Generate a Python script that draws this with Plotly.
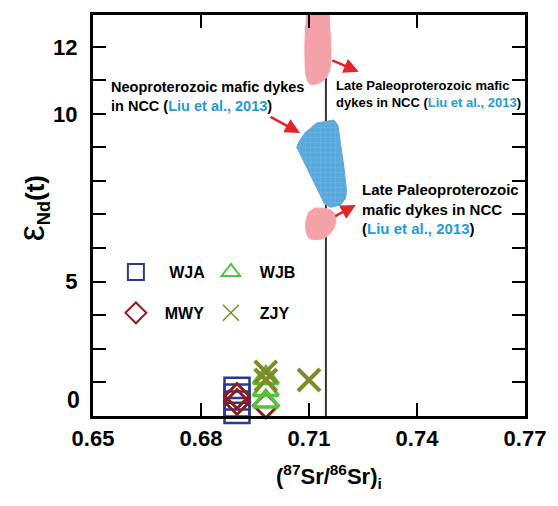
import plotly.graph_objects as go

# ---------------- data ----------------
# sample groups: (87Sr/86Sr)i and eNd(t)
wja_x = [0.690, 0.690, 0.690, 0.690]
wja_y = [1.75, 1.55, 1.34, 1.15]
mwy_x = [0.690, 0.690, 0.698]
mwy_y = [1.58, 1.40, 1.30]
wjb_x = [0.698, 0.698, 0.698]
wjb_y = [2.12, 1.76, 1.42]
zjy_x = [0.698, 0.698, 0.710]
zjy_y = [2.30, 2.06, 2.06]

# reference field outlines
late_paleo_top_x = [0.7100, 0.7150, 0.7158, 0.7161, 0.7158, 0.7147, 0.7122, 0.7103, 0.7092, 0.7089, 0.7089, 0.7092, 0.7095]
late_paleo_top_y = [13.10, 13.10, 12.51, 11.91, 11.37, 11.07, 10.90, 10.90, 11.13, 11.61, 12.21, 12.75, 13.10]
neo_x = [0.71185, 0.71691, 0.71802, 0.71877, 0.71968, 0.72042, 0.72015, 0.71877, 0.71600, 0.71434, 0.70660, 0.70723, 0.70909]
neo_y = [9.722, 9.821, 9.671, 9.125, 8.427, 7.731, 7.483, 7.283, 7.215, 7.313, 9.006, 9.173, 9.471]
late_paleo_bot_x = [0.71138, 0.71600, 0.71738, 0.71691, 0.71415, 0.71000, 0.70909, 0.71000]
late_paleo_bot_y = [7.194, 7.134, 6.934, 6.597, 6.298, 6.298, 6.746, 7.083]

ref_line_x = [0.7147, 0.7147]
ref_line_y = [0.5, 13.5]

x_ticks = [0.65, 0.68, 0.71, 0.74, 0.77]
y_ticks = list(range(2, 13))
y_tick_text = ["", "", "", "5", "", "", "", "", "10", "", "12"]

FONT = "Arial, Liberation Sans, sans-serif"
BLUE_TXT = "#1f9bd7"
PINK = "#f4a2a7"
NAVY = "#2b3a8c"
GREEN = "#56c13c"
DRED = "#8e1b1f"
OLIVE = "#7f8a28"
RED = "#e3232a"
NB = "\u00a0"

fig = go.Figure()

fig.add_trace(go.Scatter(x=ref_line_x, y=ref_line_y, mode="lines",
                         line=dict(color="#333333", width=2), showlegend=False, hoverinfo="skip"))
fig.add_trace(go.Scatter(x=late_paleo_top_x, y=late_paleo_top_y, mode="lines", fill="toself",
                         fillcolor=PINK, line=dict(color=PINK, width=1, shape="spline"), showlegend=False))
fig.add_trace(go.Scatter(x=neo_x, y=neo_y, mode="lines", fill="toself",
                         fillcolor="#5aa9dd", line=dict(color="#5aa9dd", width=1),
                         fillpattern=dict(shape="+", bgcolor="#5aa9dd", fgcolor="#86c2ea", size=5, solidity=0.15),
                         showlegend=False))
fig.add_trace(go.Scatter(x=late_paleo_bot_x, y=late_paleo_bot_y, mode="lines", fill="toself",
                         fillcolor=PINK, line=dict(color=PINK, width=1, shape="spline"), showlegend=False))

# data points
fig.add_trace(go.Scatter(x=wja_x, y=wja_y, mode="markers", cliponaxis=False, showlegend=False,
                         marker=dict(symbol="square-open", size=25, color=NAVY, line=dict(width=2.5, color=NAVY))))
fig.add_trace(go.Scatter(x=mwy_x, y=mwy_y, mode="markers", cliponaxis=False, showlegend=False,
                         marker=dict(symbol="diamond-open", size=19, color=DRED, line=dict(width=3, color=DRED))))
fig.add_trace(go.Scatter(x=wjb_x, y=wjb_y, mode="markers", cliponaxis=False, showlegend=False,
                         marker=dict(symbol="triangle-up-open", size=22, color=GREEN, line=dict(width=3.5, color=GREEN))))
fig.add_trace(go.Scatter(x=zjy_x, y=zjy_y, mode="markers", cliponaxis=False, showlegend=False,
                         marker=dict(symbol="x-thin-open", size=22, color=OLIVE, line=dict(width=4, color=OLIVE))))

# legend entries
fig.add_trace(go.Scatter(x=[None], y=[None], mode="markers", name=NB * 3 + "WJA", legend="legend",
                         marker=dict(symbol="square-open", size=16, color=NAVY, line=dict(width=2, color=NAVY))))
fig.add_trace(go.Scatter(x=[None], y=[None], mode="markers", name=NB * 2 + "WJB", legend="legend",
                         marker=dict(symbol="triangle-up-open", size=16, color=GREEN, line=dict(width=2, color=GREEN))))
fig.add_trace(go.Scatter(x=[None], y=[None], mode="markers", name=NB * 2 + "MWY", legend="legend2",
                         marker=dict(symbol="diamond-open", size=16, color=DRED, line=dict(width=2, color=DRED))))
fig.add_trace(go.Scatter(x=[None], y=[None], mode="markers", name=NB * 2 + "ZJY", legend="legend2",
                         marker=dict(symbol="x-thin-open", size=16, color=OLIVE, line=dict(width=1.5, color=OLIVE))))

leg_common = dict(orientation="h", xanchor="left", yanchor="middle", bgcolor="rgba(0,0,0,0)",
                  font=dict(family=FONT, size=16, color="black", weight="bold"),
                  entrywidth=50, itemsizing="trace")

annotations = []
def txt(x, y, text, size):
    annotations.append(dict(x=x, y=y, xref="x", yref="y", text=text, showarrow=False,
                            xanchor="left", yanchor="middle", align="left",
                            font=dict(family=FONT, size=size, color="black", weight="bold")))

blue = lambda s: f"<span style='color:{BLUE_TXT}'>{s}</span>"
txt(0.65442, 10.537, "Neoproterozoic mafic dykes<br>in NCC (" + blue("Liu et al., 2013") + ")", 14.5)
txt(0.71691, 10.597, "Late Paleoproterozoic mafic<br>dykes in NCC (" + blue("Liu et al., 2013") + ")", 13)
txt(0.72410, 7.150, "Late Paleoproterozoic<br>mafic dykes in NCC<br>(" + blue("Liu et al., 2013") + ")", 15)

def arrow(x, y, ax, ay):
    annotations.append(dict(x=x, y=y, xref="x", yref="y", ax=ax, ay=ay, text="", showarrow=True,
                            arrowhead=2, arrowsize=1.2, arrowwidth=2.5, arrowcolor=RED, standoff=0))
arrow(0.72382, 11.262, -28, -12)
arrow(0.70751, 9.433, -31, -17)
arrow(0.72300, 7.283, -22, 12)

# "0" label on y axis
annotations.append(dict(x=0, y=1.463, xref="paper", yref="y", text="0", showarrow=False,
                        xanchor="right", yanchor="middle", xshift=-11,
                        font=dict(family=FONT, size=23, color="black", weight="bold")))
# axis titles
annotations.append(dict(x=0.546, y=-0.152, xref="paper", yref="paper", showarrow=False,
                        text="(<sup>87</sup>Sr/<sup>86</sup>Sr)<sub>i</sub>",
                        xanchor="center", yanchor="middle",
                        font=dict(family=FONT, size=22, color="black", weight="bold")))
annotations.append(dict(x=-0.1406, y=0.5187, xref="paper", yref="paper", showarrow=False,
                        text="<span style='font-size:36px;font-weight:normal'>ε</span><sub>Nd</sub>(t)",
                        textangle=-90, xanchor="center", yanchor="middle",
                        font=dict(family=FONT, size=26, color="black", weight="bold")))

axis_common = dict(showline=True, linewidth=3, linecolor="black", mirror="ticks",
                   ticks="inside", ticklen=13, tickwidth=2, tickcolor="black",
                   showgrid=False, zeroline=False,
                   tickfont=dict(family=FONT, size=22, color="black", weight="bold"))

fig.update_layout(
    width=558, height=506,
    margin=dict(l=93, r=31, t=15, b=90),
    paper_bgcolor="white", plot_bgcolor="white",
    xaxis=dict(range=[0.65, 0.77], tickvals=x_ticks, ticktext=[f"{v:.2f}" for v in x_ticks],
               ticklabelstandoff=1, **axis_common),
    yaxis=dict(range=[0.985, 12.955], tickvals=y_ticks, ticktext=y_tick_text,
               ticklabelstandoff=8, **axis_common),
    legend=dict(x=0.053, y=0.359, **leg_common),
    legend2=dict(x=0.053, y=0.257, **leg_common),
    annotations=annotations,
)

fig.write_html("out.html")
